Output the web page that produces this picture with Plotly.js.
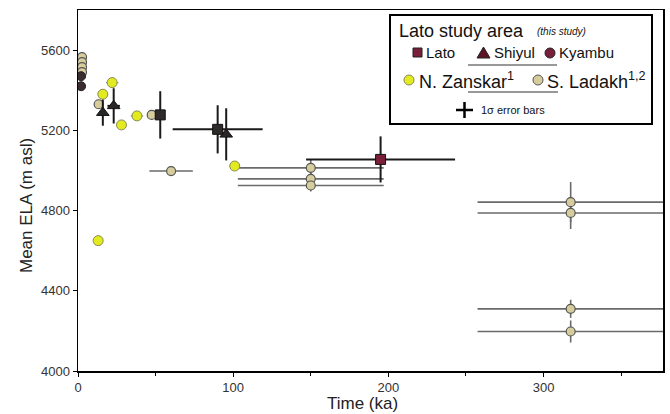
<!DOCTYPE html>
<html>
<head>
<meta charset="utf-8">
<script src="https://cdn.plot.ly/plotly-3.0.1.min.js"></script>
<style>html,body{margin:0;padding:0;background:#fff;}#chart{width:670px;height:414px;}</style>
</head>
<body>
<div id="chart"></div>
<script>
// ---- Data (time in ka, mean ELA in m asl) ----
const latoT = [53, 90, 195];
const latoE = [5277, 5205, 5055];
const latoTErr = [0, 29, 48];
const latoEErr = [118, 120, 115];

const shiyulT = [16, 23, 95.5];
const shiyulE = [5288, 5322, 5180];
const shiyulTErr = [0, 4, 0];
const shiyulEErr = [65, 88, 130];

const kyambuT = [2, 2];
const kyambuE = [5470, 5420];

const zanskarT = [13, 16, 22, 28, 38, 101];
const zanskarE = [4650, 5380, 5438, 5227, 5272, 5022];
const zanskarTErr = [0, 0, 4, 0, 4, 0];

const ladakhT = [2.6, 2.6, 2.6, 2.6, 13.3, 47.5, 60, 150, 150, 150, 317.5, 317.5, 317.5, 317.5];
const ladakhE = [5565, 5540, 5515, 5490, 5330, 5277, 4997, 5013, 4958, 4925, 4842, 4788, 4310, 4197];
const ladakhTErr = [0, 0, 0, 0, 0, 0, 14, 47, 47, 47, 60, 60, 60, 60];
const ladakhEErr = [0, 0, 0, 0, 0, 0, 0, 40, 30, 30, 100, 80, 45, 55];

const xTicks = [0, 100, 200, 300];
const yTicks = [4000, 4400, 4800, 5200, 5600];

// ---- Layout helpers (pixel -> paper) ----
const L = 78, R = 663, T = 10, B = 371;
const px = x => (x - L) / (R - L);
const py = y => (B - y) / (B - T);
const FONT = 'Liberation Sans, Arial, sans-serif';
const MAROON = '#7a1f3a';

const traces = [
  {
    x: ladakhT, y: ladakhE, type: 'scatter', mode: 'markers', name: 'S. Ladakh',
    marker: {symbol: 'circle', size: 9, color: '#d6cc9c', line: {color: '#555', width: 1.2}},
    error_x: {type: 'data', array: ladakhTErr, visible: true, color: '#6a6a6a', thickness: 1.6, width: 0},
    error_y: {type: 'data', array: ladakhEErr, visible: true, color: '#6a6a6a', thickness: 1.6, width: 0}
  },
  {
    x: zanskarT, y: zanskarE, type: 'scatter', mode: 'markers', name: 'N. Zanskar',
    marker: {symbol: 'circle', size: 10, color: '#e2ea20', line: {color: '#8a8a55', width: 1}},
    error_x: {type: 'data', array: zanskarTErr, visible: true, color: '#8088b8', thickness: 1.2, width: 0}
  },
  {
    x: kyambuT, y: kyambuE, type: 'scatter', mode: 'markers', name: 'Kyambu',
    marker: {symbol: 'circle', size: 9, color: '#3a2c30', line: {color: '#222', width: 1}}
  },
  {
    x: shiyulT, y: shiyulE, type: 'scatter', mode: 'markers', name: 'Shiyul',
    marker: {symbol: 'triangle-up', size: 11, color: '#2a2626', line: {color: '#111', width: 1}},
    error_x: {type: 'data', array: shiyulTErr, visible: true, color: '#1a1a1a', thickness: 2, width: 0},
    error_y: {type: 'data', array: shiyulEErr, visible: true, color: '#1a1a1a', thickness: 2, width: 0}
  },
  {
    x: latoT, y: latoE, type: 'scatter', mode: 'markers', name: 'Lato',
    marker: {symbol: 'square', size: 10, color: ['#2e2a2a', '#2e2a2a', MAROON], line: {color: '#111', width: 1}},
    error_x: {type: 'data', array: latoTErr, visible: true, color: '#1a1a1a', thickness: 2, width: 0},
    error_y: {type: 'data', array: latoEErr, visible: true, color: '#1a1a1a', thickness: 2, width: 0}
  }
];

function path(pts) {
  return 'M ' + pts.map(p => px(p[0]) + ',' + py(p[1])).join(' L ') + ' Z';
}

const shapes = [
  // legend box
  {type: 'rect', xref: 'paper', yref: 'paper', x0: px(390), x1: px(652), y0: py(124), y1: py(15),
   line: {color: '#000', width: 2}, fillcolor: '#fff', layer: 'above'},
  // Lato square
  {type: 'rect', xref: 'paper', yref: 'paper', x0: px(413), x1: px(422), y0: py(57), y1: py(48),
   line: {color: '#222', width: 1}, fillcolor: MAROON, layer: 'above'},
  // Shiyul triangle
  {type: 'path', xref: 'paper', yref: 'paper', path: path([[477, 58], [490, 58], [483.5, 47]]),
   line: {color: '#222', width: 1}, fillcolor: '#5a1528', layer: 'above'},
  // Kyambu circle
  {type: 'circle', xref: 'paper', yref: 'paper', x0: px(545), x1: px(555), y0: py(58), y1: py(48),
   line: {color: '#222', width: 1}, fillcolor: MAROON, layer: 'above'},
  // separator lines
  {type: 'line', xref: 'paper', yref: 'paper', x0: px(468), x1: px(557), y0: py(65), y1: py(65),
   line: {color: '#333', width: 1}, layer: 'above'},
  {type: 'line', xref: 'paper', yref: 'paper', x0: px(468), x1: px(558), y0: py(92), y1: py(92),
   line: {color: '#333', width: 1}, layer: 'above'},
  // N. Zanskar circle
  {type: 'circle', xref: 'paper', yref: 'paper', x0: px(404), x1: px(414), y0: py(85), y1: py(75),
   line: {color: '#8a8a55', width: 1}, fillcolor: '#e2ea20', layer: 'above'},
  // S. Ladakh circle
  {type: 'circle', xref: 'paper', yref: 'paper', x0: px(533), x1: px(543), y0: py(85), y1: py(75),
   line: {color: '#555', width: 1}, fillcolor: '#d6cc9c', layer: 'above'},
  // error bar cross
  {type: 'line', xref: 'paper', yref: 'paper', x0: px(456), x1: px(473), y0: py(110), y1: py(110),
   line: {color: '#000', width: 2.5}, layer: 'above'},
  {type: 'line', xref: 'paper', yref: 'paper', x0: px(464.5), x1: px(464.5), y0: py(102), y1: py(118),
   line: {color: '#000', width: 2.5}, layer: 'above'}
];

function ann(text, x, y, size, extra) {
  return Object.assign({text: text, xref: 'paper', yref: 'paper', x: px(x), y: py(y),
    xanchor: 'left', yanchor: 'middle', showarrow: false,
    font: {family: FONT, size: size, color: '#111'}}, extra || {});
}

const annotations = [
  ann('Lato study area', 397, 31, 18),
  ann('<i>(this study)</i>', 535, 32, 10),
  ann('Lato', 424, 53, 15),
  ann('Shiyul', 492, 53, 15),
  ann('Kyambu', 557, 53, 15),
  ann('N. Zanskar<sup>1</sup>', 417, 80, 18),
  ann('S. Ladakh<sup>1,2</sup>', 545, 80, 18),
  ann('1σ error bars', 479, 110, 11),
  // axis titles
  {text: 'Mean ELA (m asl)', xref: 'paper', yref: 'paper', x: px(27), y: py(206), textangle: -90,
   xanchor: 'center', yanchor: 'middle', showarrow: false, font: {family: FONT, size: 17, color: '#222'}},
  {text: 'Time (ka)', xref: 'paper', yref: 'paper', x: px(362), y: py(403.5),
   xanchor: 'center', yanchor: 'middle', showarrow: false, font: {family: FONT, size: 17, color: '#222'}}
];

const axisCommon = {
  showline: true, linecolor: '#000', linewidth: 1.5, mirror: true,
  ticks: 'outside', ticklen: 4, tickwidth: 1, tickcolor: '#000',
  showgrid: false, zeroline: false,
  tickfont: {family: FONT, size: 13, color: '#333'}
};

const layout = {
  width: 670, height: 414,
  margin: {l: L, r: 670 - R, t: T, b: 414 - B, pad: 0},
  paper_bgcolor: '#fff', plot_bgcolor: '#fff',
  showlegend: false,
  xaxis: Object.assign({}, axisCommon, {range: [0, 377], tickvals: xTicks,
    minor: {dtick: 50, tick0: 0, ticks: 'outside', ticklen: 3, tickcolor: '#000', showgrid: false}}),
  yaxis: Object.assign({}, axisCommon, {range: [4000, 5800], tickvals: yTicks}),
  shapes: shapes,
  annotations: annotations
};

Plotly.newPlot('chart', traces, layout, {staticPlot: true, displayModeBar: false});
</script>
</body>
</html>
